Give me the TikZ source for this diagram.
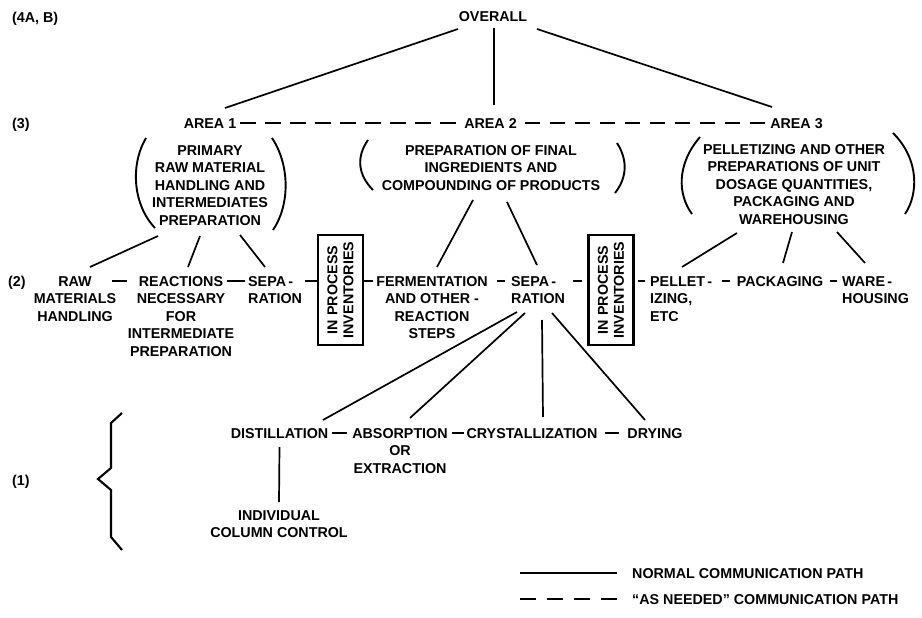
\documentclass[tikz,border=0pt]{standalone}
\usepackage{fontspec}
\setmainfont{Liberation Sans}
\begin{document}
\begin{tikzpicture}[x=1pt,y=-1pt,
  lab/.style={inner sep=0pt, font=\fontsize{14.3}{17.6}\selectfont\bfseries, align=center, anchor=north},
  labl/.style={lab, align=left, anchor=north west},
  conn/.style={line width=1.7pt},
  asneeded/.style={line width=1.7pt, dash pattern=on 15.5pt off 9.5pt},
  invbox/.style={draw, line width=2.2pt, rotate=90, minimum width=110pt, minimum height=45pt, inner sep=0pt, align=center, font=\fontsize{14.3}{16}\selectfont\bfseries},
  paren/.style={line width=1.9pt},
  brace/.style={line width=2.1pt}
]
\fill[white] (0,0) rectangle (922,618);
\useasboundingbox (0,0) rectangle (922,618);

% level labels
\node[labl] (l4) at (12,12) {(4A, B)};
\node[labl] (l3) at (12,118) {(3)};
\node[labl] (l2) at (8,276) {(2)};
\node[labl] (l1) at (12,475) {(1)};

% level 4 and 3
\node[lab] (overall) at (493,11) {OVERALL};
\node[lab] (area1) at (210,118) {AREA 1};
\node[lab] (area2) at (490.5,118) {AREA 2};
\node[lab] (area3) at (796.5,118) {AREA 3};
\node[lab] (desc1) at (210,145) {PRIMARY\\RAW MATERIAL\\HANDLING AND\\INTERMEDIATES\\PREPARATION};
\node[lab] (desc2) at (491,145) {PREPARATION OF FINAL\\INGREDIENTS AND\\COMPOUNDING OF PRODUCTS};
\node[lab] (desc3) at (794,144) {PELLETIZING AND OTHER\\PREPARATIONS OF UNIT\\DOSAGE QUANTITIES,\\PACKAGING AND\\WAREHOUSING};

% parentheses around the descriptions
\draw[paren] (146,138) .. controls (130,165) and (133,205) .. (155,228);
\draw[paren] (272,138) .. controls (290,165) and (290,205) .. (273,230);
\draw[paren] (368,140) .. controls (356,157) and (358,175) .. (373,190);
\draw[paren] (617,143) .. controls (628,160) and (627,178) .. (615,193);
\draw[paren] (700,137) .. controls (676,165) and (678,195) .. (692,214);
\draw[paren] (893,133) .. controls (920,160) and (918,195) .. (905,214);

% level 2
\node[lab] (raw) at (75,276) {RAW\\MATERIALS\\HANDLING};
\node[lab] (react) at (181,276) {REACTIONS\\NECESSARY\\FOR\\INTERMEDIATE\\PREPARATION};
\node[labl] (sepa1) at (248,276) {SEPA\,-\\RATION};
\node[invbox] (box1) at (340.5,290) {IN PROCESS\\INVENTORIES};
\node[lab] (ferm) at (432,276) {FERMENTATION\\AND OTHER -\\REACTION\\STEPS};
\node[labl] (sepa2) at (511,276) {SEPA\,-\\RATION};
\node[invbox] (box2) at (611,290) {IN PROCESS\\INVENTORIES};
\node[labl] (pellet) at (650,276) {PELLET\,-\\IZING,\\ETC};
\node[lab] (pack) at (780,276) {PACKAGING};
\node[labl] (ware) at (842,276) {WARE\,-\\HOUSING};

% level 1
\node[lab] (distill) at (279.5,428) {DISTILLATION};
\node[lab] (absorb) at (400,428) {ABSORPTION\\OR\\EXTRACTION};
\node[lab] (cryst) at (532,428) {CRYSTALLIZATION};
\node[lab] (drying) at (655,428) {DRYING};
\node[lab] (indiv) at (279,510) {INDIVIDUAL\\COLUMN CONTROL};

% brace
\draw[brace] (122,413) -- (111,423) -- (111,468) -- (98,479) -- (111,490) -- (111,537) -- (122,550);

% overall -> areas
\draw[conn] ([shift={(-35,18)}]overall.north) -- ([shift={(15,-10)}]area1.north);
\draw[conn] ([shift={(1,17)}]overall.north) -- ([shift={(3.5,-13)}]area2.north);
\draw[conn] ([shift={(44,18)}]overall.north) -- ([shift={(-24.5,-11)}]area3.north);
\draw[asneeded] ([shift={(30,5)}]area1.north) -- ([shift={(-34.5,5)}]area2.north);
\draw[asneeded] ([shift={(34,5)}]area2.north) -- ([shift={(-31.5,5)}]area3.north);

% area descriptions -> level 2
\draw[conn] ([shift={(-52,91)}]desc1.north) -- ([shift={(15,-9)}]raw.north);
\draw[conn] ([shift={(-10,91)}]desc1.north) -- ([shift={(7,-9)}]react.north);
\draw[conn] ([shift={(30,90)}]desc1.north) -- ([shift={(17,-9)}]sepa1.north west);
\draw[conn] ([shift={(-18,55)}]desc2.north) -- ([shift={(5,-9)}]ferm.north);
\draw[conn] ([shift={(16,57)}]desc2.north) -- ([shift={(26,-11)}]sepa2.north west);
\draw[conn] ([shift={(-57,89)}]desc3.north) -- ([shift={(32,-9)}]pellet.north west);
\draw[conn] ([shift={(-2,88)}]desc3.north) -- ([shift={(3,-13)}]pack.north);
\draw[conn] ([shift={(43,88)}]desc3.north) -- ([shift={(23,-13)}]ware.north west);

% level 2 chain
\draw[conn] ([shift={(37,5)}]raw.north) -- ([shift={(-54,5)}]react.north);
\draw[conn] ([shift={(46,5)}]react.north) -- ([shift={(-3,5)}]sepa1.north west);
\draw[conn] ([shift={(57,5)}]sepa1.north west) -- ([shift={(0,-9)}]box1.north);
\draw[conn] ([shift={(0,-9)}]box1.south) -- ([shift={(-59,5)}]ferm.north);
\draw[conn] ([shift={(65,5)}]ferm.north) -- ([shift={(-6,5)}]sepa2.north west);
\draw[conn] ([shift={(62,5)}]sepa2.north west) -- ([shift={(-5,-9)}]box2.north);
\draw[conn] ([shift={(3,-9)}]box2.south) -- ([shift={(-5,5)}]pellet.north west);
\draw[conn] ([shift={(72,5)}]pellet.north west) -- ([shift={(-50,5)}]pack.north);
\draw[conn] ([shift={(50,5)}]pack.north) -- ([shift={(-5,5)}]ware.north west);

% separation -> level 1
\draw[conn] ([shift={(6,36)}]sepa2.north west) -- ([shift={(43.5,-8)}]distill.north);
\draw[conn] ([shift={(14,37)}]sepa2.north west) -- ([shift={(10,-10)}]absorb.north);
\draw[conn] ([shift={(31,44)}]sepa2.north west) -- ([shift={(11,-11)}]cryst.north);
\draw[conn] ([shift={(41,37)}]sepa2.north west) -- ([shift={(-10,-8)}]drying.north);

% level 1 chain
\draw[conn] ([shift={(52.5,5)}]distill.north) -- ([shift={(-53,5)}]absorb.north);
\draw[conn] ([shift={(52,5)}]absorb.north) -- ([shift={(-68,5)}]cryst.north);
\draw[conn] ([shift={(73,5)}]cryst.north) -- ([shift={(-36,5)}]drying.north);
\draw[conn] ([shift={(0,19)}]distill.north) -- ([shift={(0,-8)}]indiv.north);

% legend
\node[labl] (leg1) at (632,568) {NORMAL COMMUNICATION PATH};
\node[labl] (leg2) at (632,594) {``AS NEEDED'' COMMUNICATION PATH};
\draw[conn] ([shift={(-112,0)}]leg1.west) -- ([shift={(-15,0)}]leg1.west);
\draw[conn, dash pattern=on 16pt off 11pt] ([shift={(-112,0)}]leg2.west) -- ([shift={(-15,0)}]leg2.west);
\end{tikzpicture}
\end{document}
